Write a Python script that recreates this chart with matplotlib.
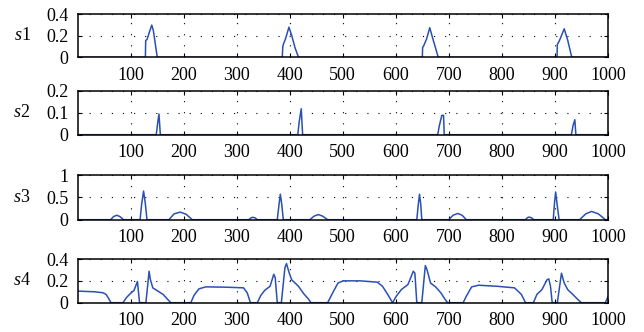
import matplotlib
matplotlib.use('Agg')
import matplotlib.pyplot as plt

plt.rcParams['font.family'] = ['Liberation Serif', 'DejaVu Serif']
plt.rcParams['mathtext.fontset'] = 'custom'
plt.rcParams['mathtext.it'] = 'Liberation Serif:italic'
plt.rcParams['mathtext.rm'] = 'Liberation Serif'

# breakpoints (x = sample index, y = value)
s1_x = [1, 128, 128.6, 131, 134, 140, 143, 150.4, 386, 387, 388, 392, 398.6, 404, 410, 416.6,
        650, 650.6, 652, 658, 664, 670, 680, 904, 904.5, 908, 917.5, 924, 931.7, 1000]
s1_y = [0, 0, 0.156, 0.165, 0.21, 0.30, 0.25, 0, 0, 0.10, 0.12, 0.17, 0.28, 0.20, 0.09, 0,
        0, 0.094, 0.10, 0.17, 0.275, 0.17, 0, 0, 0.12, 0.15, 0.265, 0.16, 0, 0]

s2_x = [1, 148.5, 151, 153.6, 156.2, 415.3, 418, 421.8, 424.4, 679, 682, 686.8, 690, 691.3,
        931, 934, 937.5, 939.4, 1000]
s2_y = [0, 0, 0.05, 0.094, 0, 0, 0.06, 0.118, 0, 0, 0.04, 0.088, 0.088, 0,
        0, 0.04, 0.068, 0, 0]

s3_x = [1, 62.5, 68, 74, 80, 87, 118, 121, 124.6, 128, 131, 172.4, 182, 193.7, 205, 216.3,
        323, 327, 330.7, 335, 339, 376.6, 380, 382.4, 385, 388, 438, 446, 454, 462, 471.6,
        639.6, 642.5, 644.7, 647, 649, 699.7, 708, 717, 725, 733, 844.5, 848, 851.5, 856, 860,
        896.8, 899, 901.3, 904, 907.8, 946.5, 958, 969, 982, 995, 1000]
s3_y = [0, 0, 0.07, 0.10, 0.07, 0, 0, 0.35, 0.64, 0.35, 0, 0, 0.13, 0.17, 0.12, 0,
        0, 0.04, 0.054, 0.04, 0, 0, 0.35, 0.57, 0.35, 0, 0, 0.08, 0.115, 0.08, 0,
        0, 0.35, 0.57, 0.35, 0, 0, 0.10, 0.14, 0.10, 0, 0, 0.045, 0.06, 0.04, 0,
        0, 0.35, 0.62, 0.35, 0, 0, 0.13, 0.185, 0.13, 0, 0]

s4_x = [1, 32, 48.3, 54, 58, 63.2, 85.8, 92, 100, 106.5, 113, 117, 129, 135, 137.5, 142,
        151.7, 161.4, 170, 176, 213.7, 219.6, 229, 242, 280, 313, 320, 326, 339, 345.6,
        353.3, 363, 370, 372.7, 376.6, 384.3, 391, 394, 398.6, 403.7, 416.7, 426, 436, 440,
        471.6, 481, 491, 500.7, 533, 565, 575, 584.7, 594, 601, 610.5, 623, 633, 636, 639.6,
        649, 655.7, 659, 665.5, 675, 685, 693, 697.8, 727, 733, 743, 756, 791.4, 823.8,
        836.7, 844.5, 859.3, 866, 875.5, 885, 888.4, 891.6, 894.8, 904.5, 912.3, 917.5,
        924, 933.6, 943, 949.8, 995, 1000]
s4_y = [0.106, 0.10, 0.091, 0.075, 0.045, 0, 0, 0.045, 0.085, 0.112, 0.194, 0, 0, 0.288, 0.21,
        0.136, 0.106, 0.076, 0.03, 0, 0, 0.067, 0.127, 0.145, 0.142, 0.136, 0.09, 0, 0, 0.067,
        0.115, 0.15, 0.26, 0.23, 0, 0, 0.32, 0.358, 0.28, 0.21, 0.15, 0.085, 0.03, 0,
        0, 0.09, 0.18, 0.20, 0.20, 0.188, 0.15, 0.076, 0, 0.06, 0.12, 0.167, 0.288, 0.27, 0,
        0, 0.34, 0.30, 0.18, 0.145, 0.09, 0.03, 0, 0, 0.06, 0.145, 0.16, 0.15, 0.136,
        0.076, 0, 0, 0.076, 0.12, 0.21, 0.218, 0.15, 0, 0, 0.27, 0.18,
        0.12, 0.076, 0.03, 0, 0, 0.055]

names = ['s1', 's2', 's3', 's4']
xs = [s1_x, s2_x, s3_x, s4_x]
ys = [s1_y, s2_y, s3_y, s4_y]
yticks = [[0, 0.2, 0.4], [0, 0.1, 0.2], [0, 0.5, 1], [0, 0.2, 0.4]]
yticklabels = [['0', '0.2', '0.4'], ['0', '0.1', '0.2'], ['0', '0.5', '1'], ['0', '0.2', '0.4']]
xticks = [100, 200, 300, 400, 500, 600, 700, 800, 900, 1000]

W, H = 644, 332
fig = plt.figure(figsize=(W / 100, H / 100), dpi=100)

# axes extents in pixels (top, bottom)
rows = [(14.3, 57.3), (90.7, 134.7), (175, 219.7), (259, 302.7)]
left, right = 78, 608

for i in range(4):
    top, bot = rows[i]
    ax = fig.add_axes([left / W, 1 - bot / H, (right - left) / W, (bot - top) / H])
    ax.plot(xs[i], ys[i], color='#2a50b4', lw=1.1)
    ax.set_xlim(1, 1000)
    ax.set_ylim(yticks[i][0], yticks[i][-1])
    ax.set_xticks(xticks)
    ax.set_xticklabels([str(t) for t in xticks])
    ax.set_yticks(yticks[i])
    ax.set_yticklabels(yticklabels[i])
    ax.tick_params(direction='in', top=True, right=True, length=3, width=0.8,
                   labelsize=13, pad=7)
    ax.grid(True, color='black', linestyle=(0, (1, 9)), linewidth=0.8)
    for sp in ax.spines.values():
        sp.set_linewidth(1.1)
    fig.text(22 / W, 1 - (top + bot) / 2 / H, r'$s$' + names[i][1], fontsize=13,
             ha='center', va='center')

fig.savefig('out.png', dpi=100)
